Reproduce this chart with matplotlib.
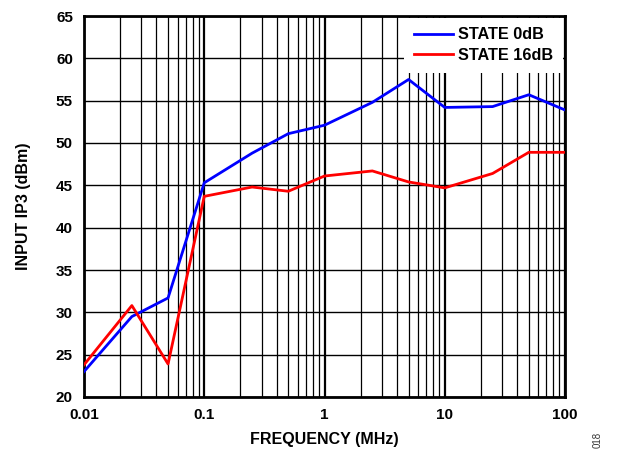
import numpy as np
import matplotlib
matplotlib.use("Agg")
from matplotlib import pyplot as plt
from matplotlib.ticker import FixedLocator, FixedFormatter, LogLocator, NullFormatter

plt.rcParams['font.family'] = ['Liberation Sans', 'DejaVu Sans']
plt.rcParams['font.weight'] = 'bold'

freq = [0.01, 0.025, 0.05, 0.1, 0.25, 0.5, 1, 2.5, 5, 10, 25, 50, 100]
state_0db = [23.0, 29.5, 31.7, 45.3, 48.8, 51.1, 52.1, 54.8, 57.5, 54.2, 54.3, 55.7, 53.9]
state_16db = [23.8, 30.8, 23.9, 43.7, 44.8, 44.3, 46.1, 46.7, 45.4, 44.7, 46.4, 48.9, 48.9]
xticks = [0.01, 0.1, 1, 10, 100]
xticklabels = ["0.01", "0.1", "1", "10", "100"]
yticks = [20, 25, 30, 35, 40, 45, 50, 55, 60, 65]

fig = plt.figure(figsize=(6.18, 4.5), dpi=100)
ax = fig.add_axes([84/618, 53/450, 481/618, 381/450])

ax.plot(freq, state_0db, color='#0000ff', lw=2.0, label='STATE 0dB', zorder=3)
ax.plot(freq, state_16db, color='#ff0000', lw=2.0, label='STATE 16dB', zorder=3)

ax.set_xscale('log')
ax.set_xlim(0.01, 100)
ax.set_ylim(20, 65)
ax.xaxis.set_major_locator(FixedLocator(xticks))
ax.xaxis.set_major_formatter(FixedFormatter(xticklabels))
ax.xaxis.set_minor_locator(LogLocator(base=10, subs=np.arange(2, 10)))
ax.xaxis.set_minor_formatter(NullFormatter())
ax.set_yticks(yticks)

ax.grid(True, which='major', axis='x', color='black', lw=1.6)
ax.grid(True, which='minor', axis='x', color='black', lw=0.9)
ax.grid(True, which='major', axis='y', color='black', lw=1.0)
ax.tick_params(which='both', length=0, labelsize=11, pad=8)
for s in ax.spines.values():
    s.set_linewidth(2)

ax.set_xlabel("FREQUENCY (MHz)", fontsize=11.5, fontweight='bold', labelpad=7)
ax.set_ylabel("INPUT IP3 (dBm)", fontsize=11.5, fontweight='bold', labelpad=18)

leg = ax.legend(loc='upper right', frameon=True, fancybox=False, framealpha=1,
                edgecolor='white', fontsize=11.7, handlelength=2.4, handletextpad=0.35,
                borderaxespad=0.1, labelspacing=0.35, borderpad=0.6)
leg.get_frame().set_linewidth(0)
leg.set_zorder(5)

fig.text(598/618, 1 - 440/450, "018", rotation=90, fontsize=7, fontweight='normal',
         color='#333333', ha='center', va='center')

fig.savefig("out.png", dpi=100)
